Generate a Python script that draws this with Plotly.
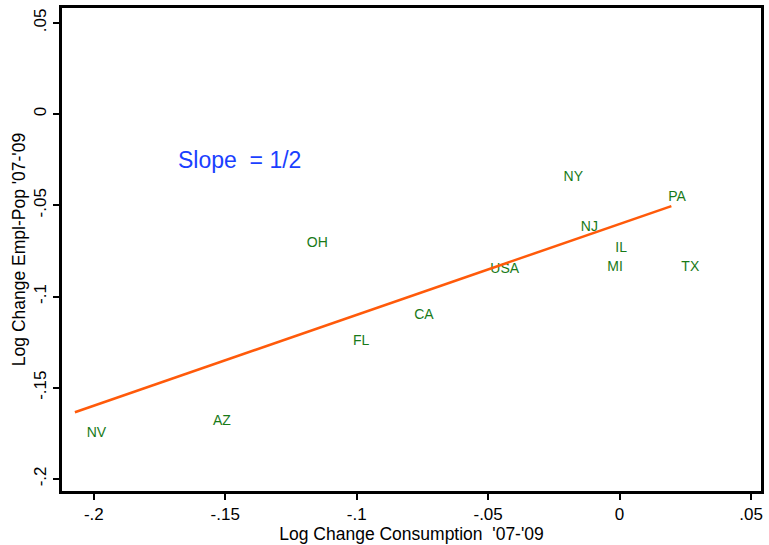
import plotly.graph_objects as go

# Data
states = ["NV", "AZ", "OH", "FL", "CA", "USA", "NY", "NJ", "PA", "IL", "MI", "TX"]
cons_change = [-0.1990, -0.1513, -0.1150, -0.0983, -0.0744, -0.0437, -0.0176, -0.0115, 0.0219, 0.0006, -0.0017, 0.0269]
emp_change = [-0.1751, -0.1686, -0.0709, -0.1249, -0.1102, -0.0851, -0.0349, -0.0622, -0.0458, -0.0736, -0.0840, -0.0840]

fit_x = [-0.2072, 0.0197]
fit_y = [-0.1634, -0.0504]

x_ticks = [-0.2, -0.15, -0.1, -0.05, 0, 0.05]
x_tick_labels = ["-.2", "-.15", "-.1", "-.05", "0", ".05"]
y_ticks = [-0.2, -0.15, -0.1, -0.05, 0, 0.05]
y_tick_labels = ["-.2", "-.15", "-.1", "-.05", "0", ".05"]

font_family = "Liberation Sans, Arial, Helvetica, sans-serif"

fig = go.Figure()
fig.add_trace(go.Scatter(
    x=cons_change, y=emp_change, mode="text", text=states,
    textposition="middle center",
    textfont=dict(color="#187a18", size=14, family=font_family),
    showlegend=False, hoverinfo="skip",
))
fig.add_trace(go.Scatter(
    x=fit_x, y=fit_y, mode="lines",
    line=dict(color="#ff5a0a", width=2.5),
    showlegend=False, hoverinfo="skip",
))

fig.add_annotation(
    x=-0.1447, y=-0.0253, xref="x", yref="y", text="Slope  = 1/2",
    showarrow=False, font=dict(color="#1a40ff", size=23, family=font_family),
)

axis_common = dict(
    showgrid=False, zeroline=False, showline=True, linecolor="black",
    linewidth=2.5, mirror=True, ticks="outside", ticklen=6, tickwidth=1.5,
    tickcolor="black", tickfont=dict(size=17, color="black", family=font_family),
)

fig.update_layout(
    width=769, height=545,
    margin=dict(l=62, r=5, t=7, b=53),
    paper_bgcolor="white", plot_bgcolor="white",
    xaxis=dict(
        range=[-0.2121, 0.0538], tickvals=x_ticks, ticktext=x_tick_labels,
        title=dict(text="Log Change Consumption  '07-'09",
                   font=dict(size=17.5, color="black", family=font_family), standoff=4),
        **axis_common,
    ),
    yaxis=dict(
        range=[-0.2066, 0.0582], tickvals=y_ticks, ticktext=y_tick_labels,
        tickangle=-90,
        title=dict(text="Log Change Empl-Pop '07-'09",
                   font=dict(size=17.5, color="black", family=font_family), standoff=2),
        **axis_common,
    ),
)

fig.write_html("out.html")
